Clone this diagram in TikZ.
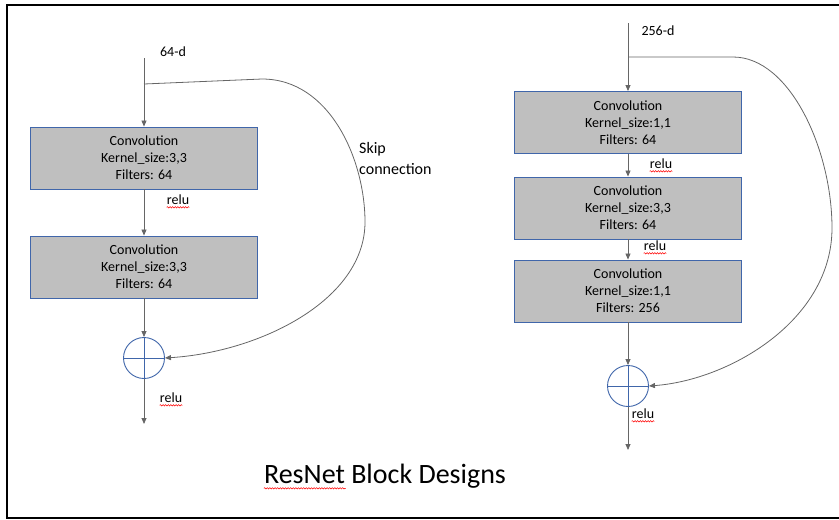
\documentclass[tikz,border=0pt]{standalone}
\usepackage{fontspec}
\setmainfont{Carlito}
\usetikzlibrary{arrows.meta,decorations.pathmorphing}
\definecolor{boxgray}{HTML}{BFBFBF}
\definecolor{boxblue}{HTML}{4066AA}
\definecolor{arrgray}{HTML}{666666}
\newcommand{\spellmark}[1]{\draw[spell] ([yshift=-2.5pt]#1.base west) -- ([yshift=-2.5pt]#1.base east);}

\begin{document}
\begin{tikzpicture}[x=1pt,y=-1pt]
			\tikzset{rnbox/.style={draw=boxblue, fill=boxgray, line width=0.9pt,
						minimum width=227pt, minimum height=62pt, inner sep=0pt,
						align=center, font=\fontsize{14}{17}\selectfont}}
			\tikzset{rnsum/.style={circle, draw=boxblue, fill=white, line width=0.9pt,
						minimum size=41pt, inner sep=0pt,
						path picture={\draw[boxblue, line width=0.9pt]
							(path picture bounding box.north) -- (path picture bounding box.south)
							(path picture bounding box.west) -- (path picture bounding box.east);}}}
			\tikzset{rnline/.style={draw=arrgray, line width=0.8pt,
						-{Triangle[length=6pt,width=5pt]}}}
			\tikzset{rntext/.style={inner sep=0pt, font=\fontsize{14}{17}\selectfont}}
			\tikzset{spell/.style={red, line width=0.5pt, decorate,
						decoration={snake, amplitude=0.7pt, segment length=2.6pt}}}

				\useasboundingbox (0,0) rectangle (839,520);
				\draw[line width=2.5pt] (845,5) -- (7,5) -- (7,518) -- (845,518);

				% left block
				\coordinate (i1) at (144,58);
				\coordinate (b1) at (144,84);
				\coordinate (o1) at (144,424);
				\node[rnbox] (a1) at (144,158) {Convolution\\Kernel\_size:3,3\\Filters: 64};
				\node[rnbox] (a2) at (144,267) {Convolution\\Kernel\_size:3,3\\Filters: 64};
				\node[rnsum] (s1) at (144,358) {};

				\draw[rnline] (i1) -- (a1);
				\draw[rnline] (a1) -- (a2);
				\draw[rnline] (a2) -- (s1);
				\draw[rnline] (s1) -- (o1);
				\draw[rnline] (b1) -- (262,79) .. controls (330,79) and (365,160) .. (365,222)
					.. controls (365,300) and (260,352) .. (s1.east);

				\node[rntext] (l1) at (173,52) {64-d};
				\node[rntext] (r1) at (178,200) {relu};
				\node[rntext] (r2) at (171,398) {relu};
				\node[inner sep=0pt, align=left, anchor=north west,
					font=\fontsize{16}{21}\selectfont] (k) at (359,142) {Skip\\connection};
				\spellmark{r1}
				\spellmark{r2}

				% right block
				\coordinate (i2) at (628,23);
				\coordinate (b2) at (628,57);
				\coordinate (o2) at (628,450);
				\node[rnbox] (c1) at (628,122.5) {Convolution\\Kernel\_size:1,1\\Filters: 64};
				\node[rnbox] (c2) at (628,208) {Convolution\\Kernel\_size:3,3\\Filters: 64};
				\node[rnbox] (c3) at (628,291) {Convolution\\Kernel\_size:1,1\\Filters: 256};
				\node[rnsum] (s2) at (628,386) {};

				\draw[rnline] (i2) -- (c1);
				\draw[rnline] (c1) -- (c2);
				\draw[rnline] (c2) -- (c3);
				\draw[rnline] (c3) -- (s2);
				\draw[rnline] (s2) -- (o2);
				\draw[rnline] (b2) -- (733,57) .. controls (790,57) and (832,150) .. (832,228)
					.. controls (832,320) and (730,380) .. (s2.east);

				\node[rntext] (l2) at (658,31) {256-d};
				\node[rntext] (r3) at (661,164) {relu};
				\node[rntext] (r4) at (655,246) {relu};
				\node[rntext] (r5) at (643,414) {relu};
				\spellmark{r3}
				\spellmark{r4}
				\spellmark{r5}

				% title
				\node[inner sep=0pt, font=\fontsize{28}{34}\selectfont] (t) at (385,476) {ResNet Block Designs};
				\draw[spell] ([yshift=-5pt]t.base west) -- ++(82,0);
		\end{tikzpicture}
\end{document}
